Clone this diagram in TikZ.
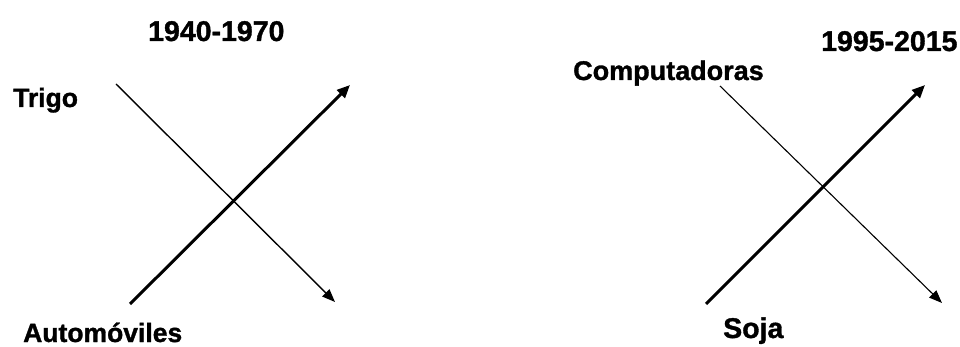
\documentclass[tikz,border=0pt]{standalone}
\usepackage{fontspec}
\setmainfont{Liberation Sans}
\newfontfamily\heavyfont[FakeBold=1.2]{Liberation Sans Bold}
\usetikzlibrary{arrows.meta}
\begin{document}
\begin{tikzpicture}[x=1pt,y=-1pt,
  lbl/.style={anchor=base west,inner sep=0pt,font=\heavyfont\fontsize{26.5}{26}\selectfont},
  yr/.style={anchor=base west,inner sep=0pt,font=\heavyfont\fontsize{28.5}{28}\selectfont},
  thick arrow/.style={line width=3pt,-{Triangle[length=13pt,width=11pt]}},
  thin arrow/.style={line width=1.4pt,-{Triangle[length=13pt,width=10pt]}},
  thinner arrow/.style={line width=1.1pt,-{Triangle[length=13pt,width=10pt]}}]
\useasboundingbox (0,0) rectangle (960,347);
% left diagram
\node[yr] (y1) at (148,41) {1940-1970};
\node[lbl] (trigo) at (13,107) {Trigo};
\node[lbl] (auto) at (23,342) {Automóviles};
\coordinate (a1) at (116,84);
\coordinate (a2) at (335,302);
\coordinate (b1) at (130,304);
\coordinate (b2) at (350,85);
\draw[thin arrow] (a1) -- (a2);
\draw[thick arrow] (b1) -- (b2);
% right diagram
\node[yr] (y2) at (821,51) {1995-2015};
\node[lbl,font=\heavyfont\fontsize{27}{27}\selectfont] (comp) at (573,80) {Computadoras};
\node[lbl,font=\heavyfont\fontsize{28.5}{28}\selectfont] (soja) at (723,338) {Soja};
\coordinate (c1) at (720,86);
\coordinate (c2) at (942,303);
\coordinate (d1) at (706,304);
\coordinate (d2) at (925,85);
\draw[thinner arrow] (c1) -- (c2);
\draw[thick arrow] (d1) -- (d2);
\end{tikzpicture}
\end{document}
